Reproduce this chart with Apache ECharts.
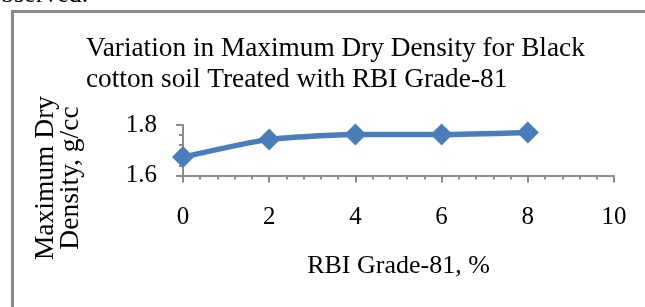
<!DOCTYPE html>
<html>
<head>
<meta charset="utf-8">
<script src="https://cdn.jsdelivr.net/npm/echarts@6/dist/echarts.min.js"></script>
<style>
  html, body { margin: 0; padding: 0; background: #fff; }
  #myChart { width: 645px; height: 307px; }
</style>
</head>
<body>
<div id="myChart"></div>
<script>
// RBI Grade-81 dosage, %
const rbiPercent = [0, 2, 4, 6, 8];
// maximum dry density, g/cc
const maxDryDensity = [1.673, 1.743, 1.762, 1.762, 1.770];
const titleLines = ['Variation in Maximum Dry Density for Black', 'cotton soil Treated with RBI Grade-81'];
const xName = 'RBI Grade-81, %';
const yNameLines = ['Maximum Dry', 'Density, g/cc'];

const font = 'Liberation Serif';
const axisGray = '#8c8c8c';

const myChart = echarts.init(document.getElementById('myChart'));
myChart.setOption({
  animation: false,
  title: {
    text: titleLines.join('\n'),
    left: 86,
    top: 33,
    padding: 0,
    textStyle: { fontFamily: font, fontSize: 27.3, fontWeight: 'normal', color: '#000', lineHeight: 31 }
  },
  grid: { left: 183, right: 31, top: 125, bottom: 131.5 },
  xAxis: {
    type: 'value',
    min: 0,
    max: 10,
    interval: 2,
    name: xName,
    nameLocation: 'middle',
    nameGap: 78,
    nameTextStyle: { fontFamily: font, fontSize: 26, color: '#000' },
    axisLine: { lineStyle: { color: axisGray, width: 2 } },
    axisTick: { length: 7, lineStyle: { color: axisGray, width: 2 } },
    minorTick: { show: true, splitNumber: 5, length: 4, lineStyle: { color: axisGray, width: 2 } },
    splitLine: { show: false },
    axisLabel: { fontFamily: font, fontSize: 25, color: '#000', margin: 29 }
  },
  yAxis: {
    type: 'value',
    min: 1.6,
    max: 1.8,
    interval: 0.2,
    axisLine: { show: true, lineStyle: { color: axisGray, width: 2 } },
    axisTick: { show: true, length: 7, lineStyle: { color: axisGray, width: 2 } },
    minorTick: { show: true, splitNumber: 5, length: 4, lineStyle: { color: axisGray, width: 2 } },
    splitLine: { show: false },
    axisLabel: { fontFamily: font, fontSize: 25, color: '#000', margin: 26, formatter: v => v.toFixed(1) }
  },
  graphic: [
    {
      type: 'rect',
      shape: { x: 12.5, y: 11.5, width: 700, height: 400 },
      style: { fill: 'none', stroke: '#8a8a8a', lineWidth: 3 }
    },
    {
      type: 'text',
      x: -12,
      y: -5,
      style: { text: 'observed.', fontFamily: font, fontSize: 26, fill: '#000', verticalAlign: 'middle' }
    },
    {
      type: 'text',
      x: 58,
      y: 178,
      rotation: Math.PI / 2,
      style: {
        text: yNameLines.join('\n'),
        fontFamily: font,
        fontSize: 27.5,
        lineHeight: 25,
        fill: '#000',
        align: 'center',
        verticalAlign: 'middle'
      }
    }
  ],
  series: [{
    type: 'line',
    data: rbiPercent.map((x, i) => [x, maxDryDensity[i]]),
    smooth: 0.2,
    symbol: 'diamond',
    symbolSize: 22,
    itemStyle: { color: '#4a7ebb' },
    lineStyle: { color: '#4a7ebb', width: 5.5 }
  }]
});
</script>
</body>
</html>
